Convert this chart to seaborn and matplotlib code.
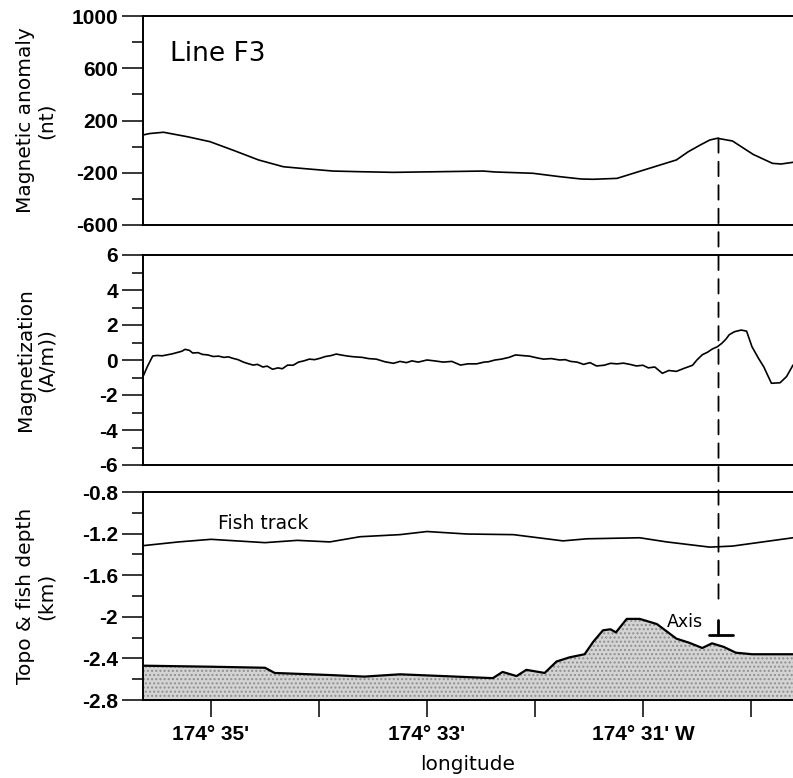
import numpy as np
import pandas as pd
import seaborn as sns
import matplotlib
matplotlib.use("Agg")
import matplotlib.pyplot as plt
from matplotlib.patches import ConnectionPatch
from matplotlib.ticker import FixedLocator

# ---------------- data (longitude in minutes west of 174 deg) ----------------
anom_lon = [35.63, 35.57, 35.44, 35.22, 35.01, 34.80, 34.56, 34.33, 34.17, 33.87,
            33.62, 33.31, 32.89, 32.48, 32.37, 32.02, 31.77, 31.57, 31.46, 31.24,
            30.94, 30.69, 30.58, 30.47, 30.38, 30.31, 30.17, 30.09, 29.98, 29.80,
            29.72, 29.61]
anom_val = [89, 100, 110, 76, 38, -26, -102, -154, -166, -187,
            -192, -197, -192, -187, -194, -204, -230, -248, -250, -243,
            -166, -102, -39, 12, 51, 64, 43, 0, -59, -128,
            -133, -120]

mag_lon = [35.63, 35.59, 35.54, 35.50, 35.45, 35.41, 35.36, 35.30, 35.27, 35.24,
           35.20, 35.17, 35.12, 35.08, 35.03, 34.98, 34.93, 34.88, 34.84, 34.80,
           34.75, 34.70, 34.66, 34.61, 34.57, 34.52, 34.48, 34.43, 34.38, 34.34,
           34.29, 34.24, 34.19, 34.14, 34.09, 34.04, 33.99, 33.94, 33.89, 33.84,
           33.79, 33.73, 33.67, 33.60, 33.54, 33.47, 33.39, 33.31, 33.25, 33.19,
           33.14, 33.08, 33.00, 32.93, 32.85, 32.77, 32.69, 32.62, 32.54, 32.47,
           32.43, 32.37, 32.31, 32.24, 32.18, 32.11, 32.05, 31.98, 31.92, 31.85,
           31.77, 31.72, 31.67, 31.61, 31.55, 31.49, 31.43, 31.36, 31.30, 31.24,
           31.18, 31.12, 31.06, 31.00, 30.95, 30.89, 30.82, 30.76, 30.69, 30.62,
           30.54, 30.50, 30.45, 30.40, 30.36, 30.31, 30.27, 30.23, 30.20, 30.15,
           30.09, 30.04, 29.99, 29.93, 29.88, 29.81, 29.73, 29.67, 29.61]
mag_val = [-0.95, -0.38, 0.23, 0.26, 0.24, 0.29, 0.35, 0.45, 0.50, 0.61,
           0.55, 0.40, 0.42, 0.32, 0.29, 0.20, 0.22, 0.15, 0.18, 0.10,
           0.02, -0.12, -0.20, -0.29, -0.25, -0.40, -0.35, -0.53, -0.45, -0.50,
           -0.29, -0.30, -0.12, -0.05, 0.05, 0.02, 0.10, 0.20, 0.25, 0.34,
           0.28, 0.22, 0.18, 0.15, 0.08, 0.05, -0.10, -0.19, -0.08, -0.15,
           -0.05, -0.12, 0.00, -0.05, -0.12, -0.08, -0.29, -0.22, -0.22, -0.12,
           -0.10, 0.00, 0.05, 0.15, 0.29, 0.25, 0.22, 0.12, 0.05, 0.08,
           0.00, 0.02, -0.08, -0.12, -0.25, -0.15, -0.34, -0.30, -0.19, -0.22,
           -0.18, -0.25, -0.34, -0.30, -0.45, -0.40, -0.76, -0.60, -0.65, -0.48,
           -0.30, 0.00, 0.30, 0.45, 0.62, 0.76, 0.95, 1.20, 1.45, 1.62,
           1.71, 1.65, 0.76, 0.10, -0.40, -1.33, -1.30, -0.95, -0.29]

fish_lon = [35.63, 35.30, 35.00, 34.50, 34.20, 33.90, 33.62, 33.25, 33.00, 32.63,
            32.20, 31.74, 31.52, 31.03, 30.78, 30.38, 30.17, 29.61]
fish_val = [-1.316, -1.28, -1.255, -1.287, -1.265, -1.28, -1.23, -1.21, -1.18, -1.204,
            -1.21, -1.27, -1.25, -1.24, -1.28, -1.33, -1.32, -1.24]

topo_lon = [35.63, 35.00, 34.50, 34.41, 33.90, 33.58, 33.25, 32.85, 32.39, 32.30,
            32.17, 32.08, 31.91, 31.80, 31.68, 31.54, 31.46, 31.37, 31.30, 31.25,
            31.15, 31.03, 30.87, 30.78, 30.69, 30.57, 30.45, 30.36, 30.25, 30.14,
            29.99, 29.61]
topo_val = [-2.47, -2.48, -2.49, -2.54, -2.56, -2.575, -2.553, -2.57, -2.59, -2.53,
            -2.57, -2.51, -2.54, -2.43, -2.39, -2.36, -2.24, -2.13, -2.12, -2.15,
            -2.02, -2.02, -2.07, -2.14, -2.21, -2.25, -2.30, -2.255, -2.29, -2.345,
            -2.36, -2.36]

xtick_pos = [35, 34, 33, 32, 31, 30]
xtick_lab = ["174\u00b0 35'", "", "174\u00b0 33'", "", "174\u00b0 31' W", ""]

anom_ticks = [1000, 600, 200, -200, -600]
mag_ticks = [6, 4, 2, 0, -2, -4, -6]
depth_ticks = [-0.8, -1.2, -1.6, -2.0, -2.4, -2.8]
depth_labels = ["-0.8", "-1.2", "-1.6", "-2", "-2.4", "-2.8"]

axis_lon = 30.30

# ---------------- figure ----------------
sns.set_style("ticks", {"axes.edgecolor": "black", "text.color": "black",
                        "xtick.color": "black", "ytick.color": "black",
                        "axes.labelcolor": "black"})
plt.rcParams["font.family"] = ["Liberation Sans", "DejaVu Sans"]

fig = plt.figure(figsize=(7.93, 7.78), dpi=100)
W, H = 793, 778
left = 143 / W
width = 1 - left
ax1 = fig.add_axes([left, 1 - 225 / H, width, 209 / H])
ax2 = fig.add_axes([left, 1 - 465 / H, width, 210 / H])
ax3 = fig.add_axes([left, 1 - 700 / H, width, 208 / H])

df_a = pd.DataFrame({"lon": anom_lon, "val": anom_val})
df_m = pd.DataFrame({"lon": mag_lon, "val": mag_val})
df_f = pd.DataFrame({"lon": fish_lon, "val": fish_val})
df_t = pd.DataFrame({"lon": topo_lon, "val": topo_val})

lw = 1.2
sns.lineplot(data=df_a, x="lon", y="val", ax=ax1, color="black", lw=lw, sort=False, estimator=None)
sns.lineplot(data=df_m, x="lon", y="val", ax=ax2, color="black", lw=lw, sort=False, estimator=None)
sns.lineplot(data=df_f, x="lon", y="val", ax=ax3, color="black", lw=lw, sort=False, estimator=None)
ax3.fill_between(df_t["lon"], df_t["val"], -2.8, facecolor="#d4d4d4", edgecolor="#8f8f8f",
                 hatch="....", linewidth=0)
sns.lineplot(data=df_t, x="lon", y="val", ax=ax3, color="black", lw=1.6, sort=False, estimator=None)

tick_font = dict(fontsize=15, fontweight="bold", family=["Liberation Sans"], color="black")
label_font = dict(fontsize=14.5, family=["DejaVu Sans"], linespacing=1.1, color="black")

for ax in (ax1, ax2, ax3):
    ax.set_xlim(35.63, 29.61)
    for s in ("top", "left", "bottom"):
        ax.spines[s].set_visible(True)
        ax.spines[s].set_linewidth(1.4)
        ax.spines[s].set_color("black")
    ax.spines["right"].set_visible(False)
    ax.tick_params(axis="y", which="major", direction="out", length=15, width=1.1, pad=3,
                   color="black")
    ax.tick_params(axis="y", which="minor", direction="out", length=8, width=1.1,
                   color="black")
    ax.set_xlabel("")
    ax.set_ylabel("")

for ax in (ax1, ax2):
    ax.set_xticks([])

ax1.set_ylim(-600, 1000)
ax1.set_yticks(anom_ticks)
ax1.set_yticklabels([str(t) for t in anom_ticks], **tick_font)
ax1.yaxis.set_minor_locator(FixedLocator([800, 400, 0, -400]))
ax1.set_ylabel("Magnetic anomaly\n(nt)", **label_font)

ax2.set_ylim(-6, 6)
ax2.set_yticks(mag_ticks)
ax2.set_yticklabels([str(t) for t in mag_ticks], **tick_font)
ax2.yaxis.set_minor_locator(FixedLocator([5, 3, 1, -1, -3, -5]))
ax2.set_ylabel("Magnetization\n(A/m))", **label_font)

ax3.set_ylim(-2.8, -0.8)
ax3.set_yticks(depth_ticks)
ax3.set_yticklabels(depth_labels, **tick_font)
ax3.yaxis.set_minor_locator(FixedLocator([-1.0, -1.4, -1.8, -2.2, -2.6]))
ax3.set_ylabel("Topo & fish depth\n(km)", **label_font)
ax3.set_xticks(xtick_pos)
ax3.set_xticklabels(xtick_lab, **tick_font)
ax3.tick_params(axis="x", direction="out", length=12, width=1.1, pad=6, color="black")
ax3.set_xlabel("longitude", fontsize=14.5, family=["DejaVu Sans"], labelpad=8, color="black")

for ax in (ax1, ax2, ax3):
    ax.yaxis.set_label_coords(-0.134, 0.5)

# annotations
ax1.text(0.042, 0.82, "Line F3", transform=ax1.transAxes, fontsize=19,
         family=["DejaVu Sans"], va="center", ha="left")
ax3.text(34.52, -1.10, "Fish track", fontsize=13.5, family=["DejaVu Sans"],
         ha="center", va="center")
ax3.text(30.61, -2.05, "Axis", fontsize=12.5, family=["DejaVu Sans"],
         ha="center", va="center")

# axis marker (inverted T)
ax3.plot([axis_lon, axis_lon], [-2.03, -2.175], color="black", lw=2)
ax3.plot([30.39, 30.17], [-2.175, -2.175], color="black", lw=2)

# dashed vertical line through panels
con = ConnectionPatch(xyA=(axis_lon, 64), coordsA=ax1.transData,
                      xyB=(axis_lon, -1.85), coordsB=ax3.transData,
                      color="black", lw=1.3, linestyle=(0, (8, 5)))
fig.add_artist(con)

fig.savefig("out.png", dpi=100)
